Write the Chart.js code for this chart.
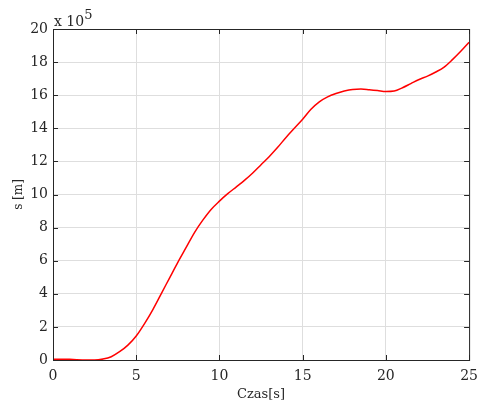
<!DOCTYPE html>
<html>
<head>
<meta charset="utf-8">
<script src="https://cdn.jsdelivr.net/npm/chart.js@4/dist/chart.umd.min.js"></script>
<style>
  html, body { margin: 0; padding: 0; background: #fff; }
  #wrap { width: 486px; height: 403px; }
</style>
</head>
<body>
<div id="wrap"><canvas id="distChart" width="486" height="403"></canvas></div>
<script>
// czas [s] and droga s [m] (in units of 1e5)
const times = [0, 1, 2, 2.5, 3, 3.5, 4, 4.5, 5, 5.5, 6, 6.5, 7, 7.5, 8, 8.5, 9, 9.5, 10, 10.5, 11, 11.5, 12, 12.5, 13, 13.5, 14, 14.5, 15, 15.5, 16, 16.5, 17, 17.5, 18, 18.5, 19, 19.5, 20, 20.5, 21, 21.5, 22, 22.5, 23, 23.5, 24, 24.5, 25];
const distance = [0.05, 0.04, 0.0, 0.0, 0.06, 0.2, 0.5, 0.9, 1.45, 2.2, 3.05, 4.0, 4.95, 5.9, 6.8, 7.7, 8.45, 9.1, 9.6, 10.05, 10.45, 10.85, 11.3, 11.8, 12.3, 12.85, 13.45, 14.0, 14.55, 15.15, 15.6, 15.9, 16.1, 16.25, 16.35, 16.37, 16.33, 16.28, 16.22, 16.25, 16.45, 16.7, 16.95, 17.15, 17.4, 17.7, 18.15, 18.65, 19.2];
const xTicks = [0, 5, 10, 15, 20, 25];
const yTicks = [0, 2, 4, 6, 8, 10, 12, 14, 16, 18, 20];

const FONT = '"DejaVu Serif", "Liberation Serif", serif';
const AXIS = '#262626';

const points = times.map((t, i) => ({ x: t, y: distance[i] }));

// box around the axes, inward ticks and the exponent label
const matlabBox = {
    id: 'matlabBox',
    afterDraw(chart) {
        const { ctx, chartArea: a, scales } = chart;
        ctx.save();
        ctx.strokeStyle = AXIS;
        ctx.lineWidth = 1;
        ctx.strokeRect(a.left + 0.5, a.top + 0.5, a.right - a.left, a.bottom - a.top);
        ctx.beginPath();
        xTicks.forEach(v => {
            const px = Math.round(scales.x.getPixelForValue(v)) + 0.5;
            ctx.moveTo(px, a.bottom); ctx.lineTo(px, a.bottom - 5);
            ctx.moveTo(px, a.top); ctx.lineTo(px, a.top + 5);
        });
        yTicks.forEach(v => {
            const py = Math.round(scales.y.getPixelForValue(v)) + 0.5;
            ctx.moveTo(a.left, py); ctx.lineTo(a.left + 5, py);
            ctx.moveTo(a.right, py); ctx.lineTo(a.right - 5, py);
        });
        ctx.stroke();
        ctx.fillStyle = AXIS;
        ctx.textBaseline = 'alphabetic';
        ctx.textAlign = 'left';
        ctx.font = '14px ' + FONT;
        ctx.fillText('x 10', a.left + 1, 26);
        const w = ctx.measureText('x 10').width;
        ctx.font = '13px ' + FONT;
        ctx.fillText('5', a.left + 1 + w, 19);
        ctx.restore();
    }
};

new Chart(document.getElementById('distChart'), {
    type: 'scatter',
    data: {
        datasets: [{
            data: points,
            showLine: true,
            borderColor: '#ff0000',
            borderWidth: 1.5,
            pointRadius: 0,
            cubicInterpolationMode: 'monotone',
            fill: false
        }]
    },
    options: {
        responsive: false,
        animation: false,
        layout: { padding: { left: 0, top: 29, right: 14, bottom: 0 } },
        plugins: { legend: { display: false }, tooltip: { enabled: false } },
        scales: {
            x: {
                type: 'linear',
                min: 0, max: 25,
                afterBuildTicks: s => { s.ticks = xTicks.map(v => ({ value: v })); },
                afterFit: s => { s.height = 43; },
                grid: { color: '#dedede', drawTicks: false },
                border: { display: false },
                ticks: { color: AXIS, padding: 8, font: { family: FONT, size: 14 } },
                title: { display: true, text: 'Czas[s]', color: AXIS, padding: { top: 0, bottom: 1 }, font: { family: FONT, size: 13 } }
            },
            y: {
                type: 'linear',
                min: 0, max: 20,
                afterBuildTicks: s => { s.ticks = yTicks.map(v => ({ value: v })); },
                afterFit: s => { s.width = 53; },
                grid: { color: '#dedede', drawTicks: false },
                border: { display: false },
                ticks: { color: AXIS, padding: 5, font: { family: FONT, size: 14 } },
                title: { display: true, text: 's [m]', color: AXIS, padding: { top: 12, bottom: 0 }, font: { family: FONT, size: 12 } }
            }
        }
    },
    plugins: [matlabBox]
});
</script>
</body>
</html>
